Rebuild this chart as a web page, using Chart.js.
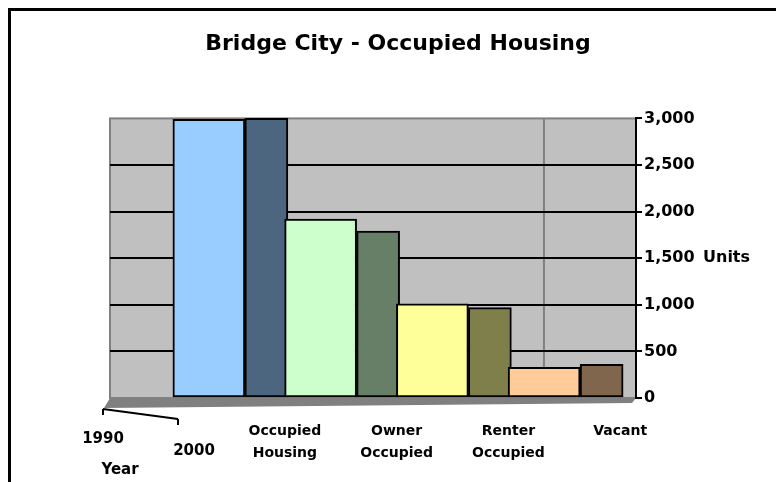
<!DOCTYPE html>
<html>
<head>
<meta charset="utf-8">
<script src="https://cdn.jsdelivr.net/npm/chart.js@4"></script>
<style>
  html, body { margin: 0; padding: 0; background: #fff; }
  #wrap { width: 776px; height: 482px; }
</style>
</head>
<body>
<div id="wrap"><canvas id="chart"></canvas></div>
<script>
const categories = [['Occupied', 'Housing'], ['Owner', 'Occupied'], ['Renter', 'Occupied'], 'Vacant'];
const years = ['1990', '2000'];
const units1990 = [2990, 1920, 1010, 330];
const units2000 = [3000, 1790, 970, 360];
const yTicks = [0, 500, 1000, 1500, 2000, 2500, 3000];

const frontColors = ['#99CCFF', '#CCFFCC', '#FFFF99', '#FFCC99'];
const sideColors = ['#4C667F', '#667F66', '#7F7F4C', '#7F664C'];
const FONT = 'DejaVu Sans';

// gray wall, floor, gridlines and the outer frame
const backdrop = {
  id: 'backdrop',
  beforeDraw(chart) {
    const { ctx, chartArea, scales } = chart;
    const y = scales.y;
    const top = y.getPixelForValue(yTicks[yTicks.length - 1]);
    const bottom = y.getPixelForValue(0);
    const left = 110, right = chartArea.right;
    ctx.save();
    ctx.fillStyle = '#fff';
    ctx.fillRect(0, 0, chart.width, chart.height);
    ctx.strokeStyle = '#000';
    ctx.lineWidth = 3;
    ctx.strokeRect(9.5, 9.5, chart.width + 20, chart.height + 20);

    ctx.fillStyle = '#C0C0C0';
    ctx.fillRect(left, top, right - left, bottom - top);
    ctx.strokeStyle = '#808080';
    ctx.lineWidth = 2;
    ctx.strokeRect(left, top, right - left, bottom - top);
    const corner = left + (right - left) * 0.825;
    ctx.beginPath();
    ctx.moveTo(corner, top);
    ctx.lineTo(corner, bottom);
    ctx.stroke();

    ctx.fillStyle = '#808080';
    ctx.beginPath();
    ctx.moveTo(left, bottom);
    ctx.lineTo(right, bottom);
    ctx.lineTo(right - 4, bottom + 5);
    ctx.lineTo(left - 6, bottom + 10);
    ctx.closePath();
    ctx.fill();

    ctx.strokeStyle = '#000';
    ctx.lineWidth = 2;
    yTicks.slice(1, -1).forEach(v => {
      const py = Math.round(y.getPixelForValue(v));
      ctx.beginPath();
      ctx.moveTo(left, py);
      ctx.lineTo(right, py);
      ctx.stroke();
    });

    // depth (year) axis
    ctx.beginPath();
    ctx.moveTo(103, bottom + 11);
    ctx.lineTo(178, bottom + 21);
    ctx.moveTo(103, bottom + 11);
    ctx.lineTo(103, bottom + 17);
    ctx.moveTo(178, bottom + 21);
    ctx.lineTo(178, bottom + 27);
    ctx.stroke();
    ctx.restore();
  },
  afterDraw(chart) {
    const { ctx, chartArea, scales } = chart;
    const y = scales.y;
    const bottom = y.getPixelForValue(0);
    ctx.save();
    ctx.fillStyle = '#000';
    ctx.textBaseline = 'middle';
    ctx.font = 'bold 16px ' + FONT;
    ctx.textAlign = 'left';
    ctx.fillText('Units', chartArea.right + 67, y.getPixelForValue(1500));
    ctx.font = 'bold 15px ' + FONT;
    ctx.textAlign = 'center';
    ctx.fillText(years[0], 103, bottom + 41);
    ctx.fillText(years[1], 194, bottom + 53);
    ctx.fillText('Year', 120, bottom + 72);
    ctx.restore();
  }
};

new Chart(document.getElementById('chart'), {
  type: 'bar',
  data: {
    labels: categories,
    datasets: [
      {
        label: years[0],
        data: units1990,
        backgroundColor: frontColors,
        borderColor: '#000',
        borderWidth: 2,
        borderSkipped: false,
        barThickness: 72,
        clip: false,
        yAxisID: 'y'
      },
      {
        label: years[1],
        data: units2000,
        backgroundColor: sideColors,
        borderColor: '#000',
        borderWidth: 2,
        borderSkipped: false,
        barThickness: 43,
        clip: false,
        yAxisID: 'y'
      }
    ]
  },
  options: {
    responsive: true,
    maintainAspectRatio: false,
    animation: false,
    layout: { padding: { left: 20, right: 0, top: 0, bottom: 0 } },
    plugins: {
      legend: { display: false },
      tooltip: { enabled: false },
      title: {
        display: true,
        text: 'Bridge City - Occupied Housing',
        color: '#000',
        font: { family: FONT, size: 22, weight: 'bold' },
        padding: { top: 31, bottom: 61 }
      }
    },
    scales: {
      x: {
        afterFit(scale) { scale.height = 84; },
        grid: { display: false, drawTicks: false },
        border: { display: false },
        ticks: {
          color: '#000',
          font: { family: FONT, size: 14, weight: 'bold', lineHeight: 1.6 },
          padding: 22,
          labelOffset: 40,
          maxRotation: 0,
          autoSkip: false
        }
      },
      y: {
        position: 'right',
        min: 0,
        max: 3000,
        afterFit(scale) { scale.width = 140; },
        afterBuildTicks(scale) { scale.ticks = yTicks.map(v => ({ value: v })); },
        grid: { drawOnChartArea: false, drawTicks: true, tickLength: 6, color: '#000', lineWidth: 2 },
        border: { display: true, color: '#000', width: 2 },
        ticks: {
          color: '#000',
          padding: 2,
          font: { family: FONT, size: 16, weight: 'bold' },
          callback: v => v.toLocaleString('en-US')
        }
      },
      spacer: {
        position: 'left',
        display: true,
        afterFit(scale) { scale.width = 169; },
        grid: { display: false },
        border: { display: false },
        ticks: { display: false }
      }
    }
  },
  plugins: [backdrop]
});
</script>
</body>
</html>
